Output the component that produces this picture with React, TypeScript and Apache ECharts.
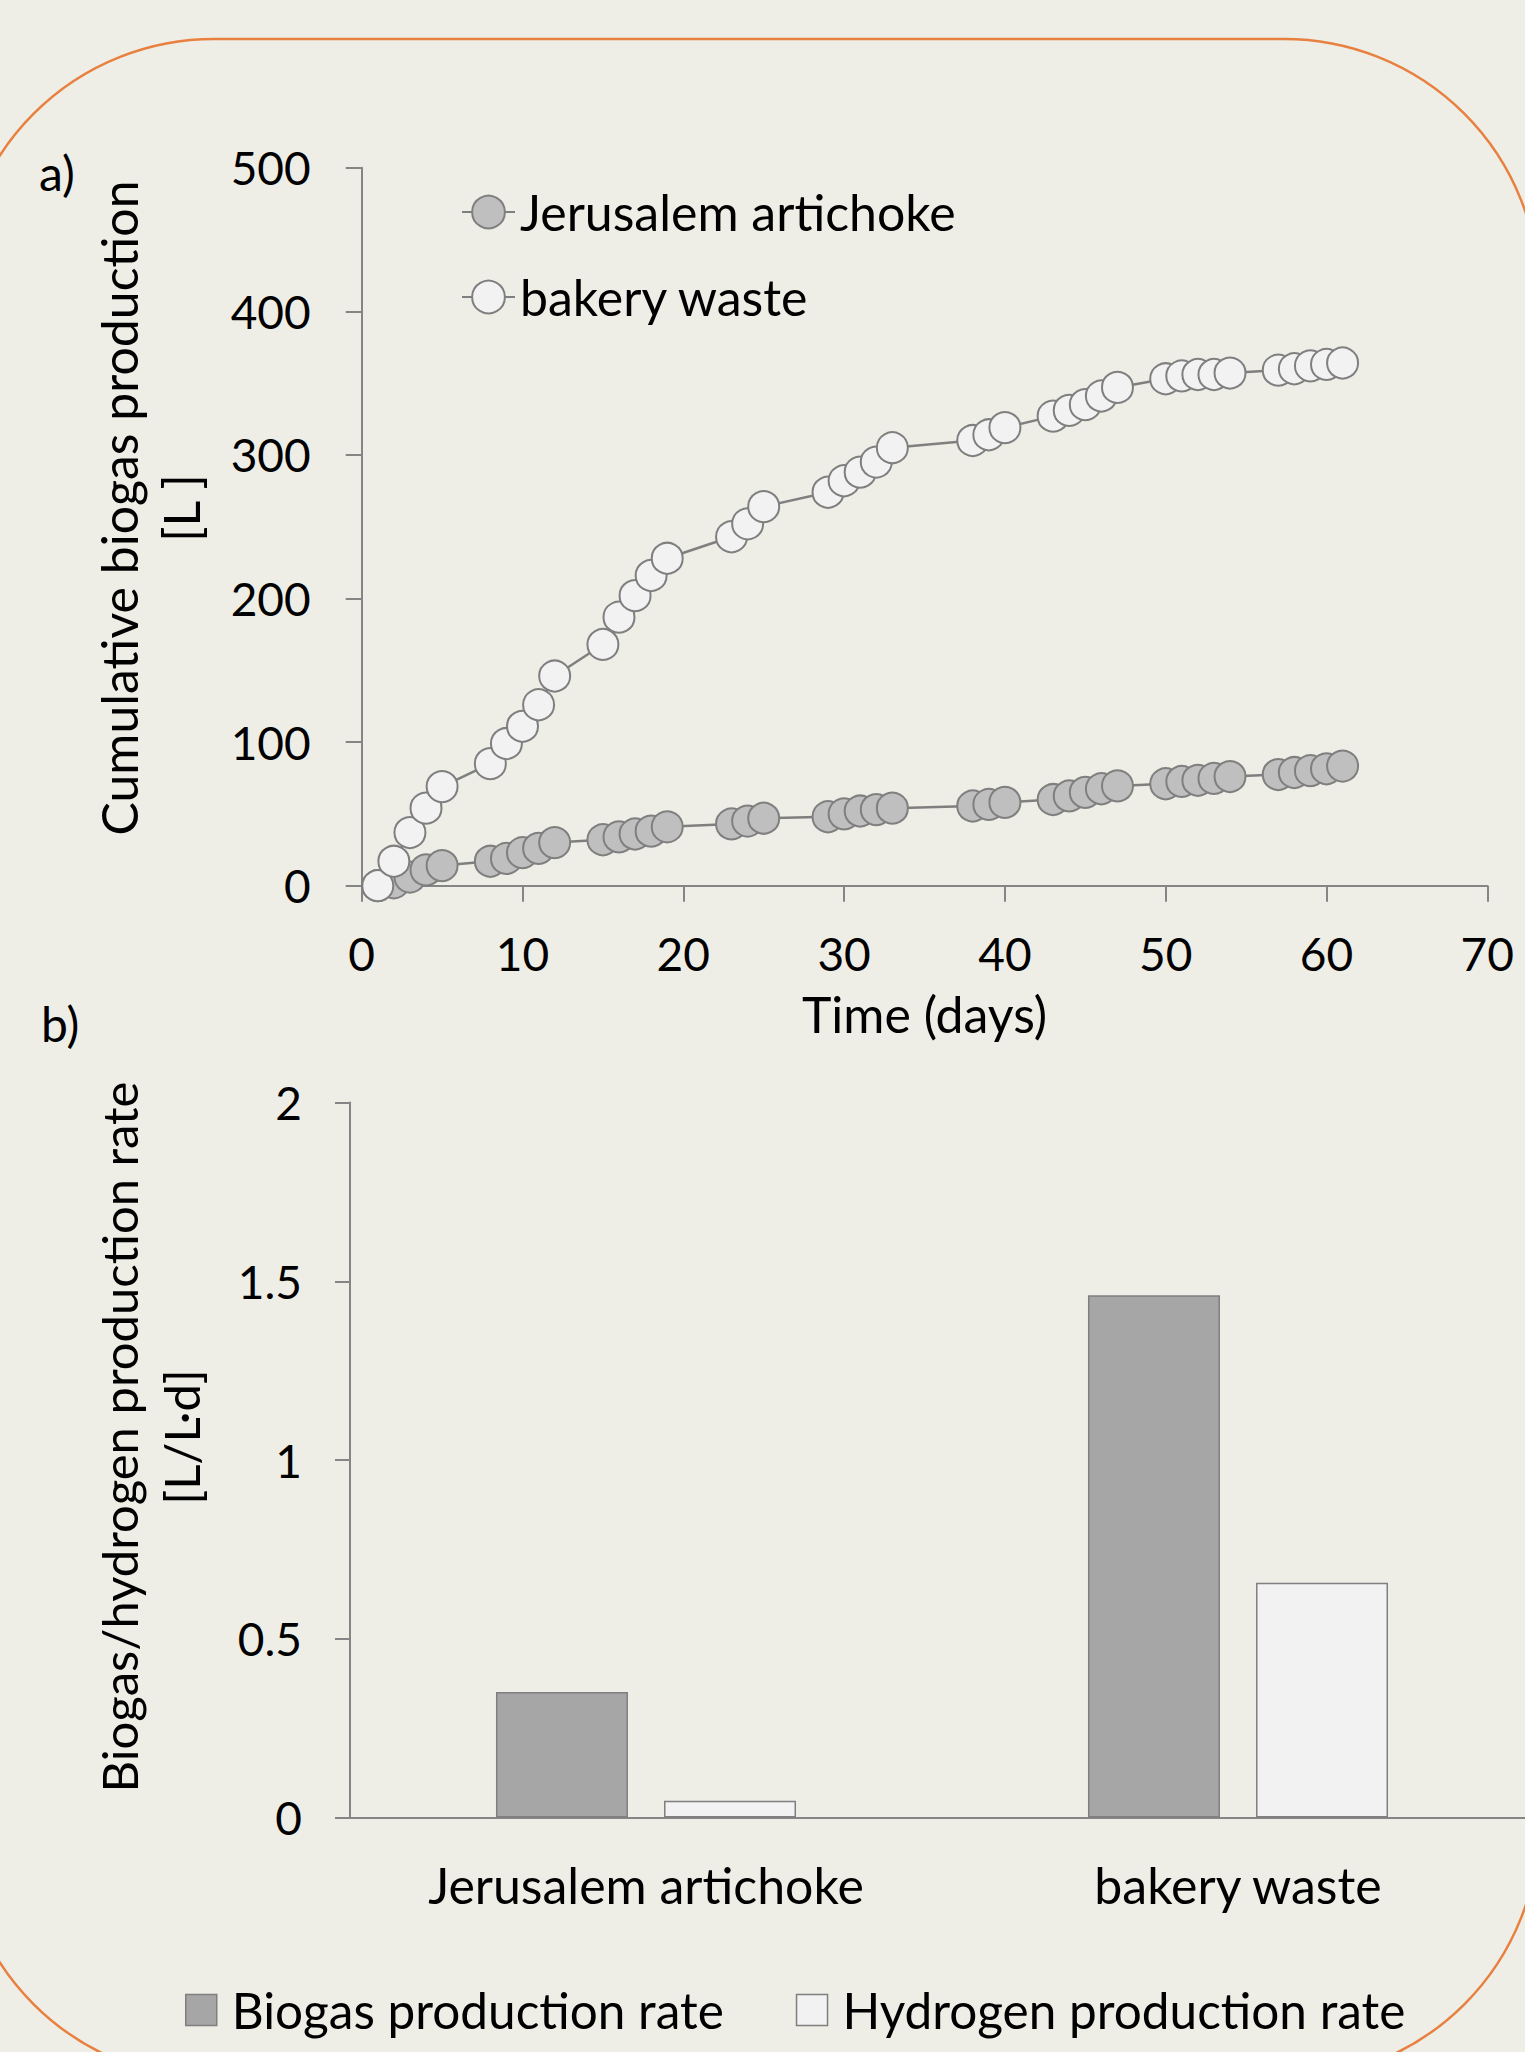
import React, { useEffect, useRef } from "react";
import * as echarts from "echarts";

const days = [1, 2, 3, 4, 5, 8, 9, 10, 11, 12, 15, 16, 17, 18, 19, 23, 24, 25, 29, 30, 31, 32, 33, 38, 39, 40, 43, 44, 45, 46, 47, 50, 51, 52, 53, 54, 57, 58, 59, 60, 61];
const artichokeCum = [0, 2, 6, 11, 14, 17, 19, 23, 26, 30, 32, 34, 36, 38, 41, 43, 45, 47, 48, 50, 52, 53, 54, 55.5, 56.6, 58, 60, 62.5, 65, 67.5, 69.5, 71, 72.6, 73.4, 74.7, 76, 77.4, 78.8, 80.1, 81.4, 83.3];
const bakeryCum = [0, 17, 37, 54, 69, 85, 99, 111, 126, 146, 168, 187, 202, 216, 228, 243, 252, 264, 274, 282, 288, 295, 305, 310, 314, 319, 327, 331, 335, 341, 347, 353, 355, 356, 356, 357, 359, 360, 362, 363, 364];

const substrates = ["Jerusalem artichoke", "bakery waste"];
const biogasRate = [0.351, 1.461];
const hydrogenRate = [0.047, 0.657];

const xTicks = { min: 0, max: 70, interval: 10 };
const yTicksTop = { min: 0, max: 500, interval: 100 };
const yTicksBottom = { min: 0, max: 2, interval: 0.5 };

const FONT = "Lato";
const AX = "#858585";
const BG = "#eeeee7";

export default function App() {
  const ref = useRef<HTMLDivElement>(null);
  useEffect(() => {
    if (!ref.current) return;
    const chart = echarts.init(ref.current, undefined, { renderer: "svg" });
    const axisCommon = {
      axisLine: { lineStyle: { color: AX, width: 2 } },
      splitLine: { show: false },
    };
    chart.setOption({
      animation: false,
      backgroundColor: BG,
      textStyle: { fontFamily: FONT },
      grid: [
        { left: 361.7, top: 167.7, width: 1125.6, height: 718 },
        { left: 350, top: 1102.6, width: 1184, height: 715 },
      ],
      xAxis: [
        {
          gridIndex: 0,
          type: "value",
          ...xTicks,
          name: "Time (days)",
          nameLocation: "middle",
          nameGap: 103,
          nameTextStyle: { fontFamily: FONT, fontSize: 50, color: "#000", lineHeight: 50 },
          ...axisCommon,
          axisTick: { show: true, length: 16, lineStyle: { color: AX, width: 2 } },
          axisLabel: { fontFamily: FONT, fontSize: 46, color: "#000", margin: 45, lineHeight: 46 },
        },
        {
          gridIndex: 1,
          type: "category",
          data: substrates,
          ...axisCommon,
          axisTick: { show: false },
          axisLabel: { fontFamily: FONT, fontSize: 50, color: "#000", margin: 42, lineHeight: 50 },
        },
      ],
      yAxis: [
        {
          gridIndex: 0,
          type: "value",
          ...yTicksTop,
          ...axisCommon,
          axisTick: { show: true, length: 16, lineStyle: { color: AX, width: 2 } },
          axisLabel: { fontFamily: FONT, fontSize: 46, color: "#000", margin: 51 },
        },
        {
          gridIndex: 1,
          type: "value",
          ...yTicksBottom,
          ...axisCommon,
          axisLine: { show: true, lineStyle: { color: AX, width: 2 } },
          axisTick: { show: true, length: 15, lineStyle: { color: AX, width: 2 } },
          axisLabel: { fontFamily: FONT, fontSize: 46, color: "#000", margin: 48 },
        },
      ],
      legend: [
        {
          data: ["Jerusalem artichoke", "bakery waste"],
          orient: "vertical",
          left: 461,
          top: 187,
          padding: 0,
          itemWidth: 53,
          itemHeight: 41,
          itemGap: 35,
          textStyle: { fontFamily: FONT, fontSize: 50, color: "#000", lineHeight: 50 },
        },
        {
          data: ["Biogas production rate", "Hydrogen production rate"],
          orient: "horizontal",
          left: 185,
          top: 1985,
          padding: 0,
          icon: "rect",
          itemWidth: 31,
          itemHeight: 31,
          itemGap: 72,
          itemStyle: { borderColor: "#7f7f7f", borderWidth: 1.5 },
          textStyle: { fontFamily: FONT, fontSize: 49.5, color: "#000", lineHeight: 50, padding: [0, 0, 0, 10] },
        },
      ],
      series: [
        {
          name: "Jerusalem artichoke",
          type: "line",
          xAxisIndex: 0,
          yAxisIndex: 0,
          data: days.map((d, i) => [d, artichokeCum[i]]),
          symbol: "circle",
          symbolSize: 31,
          lineStyle: { color: "#7f7f7f", width: 2.5 },
          itemStyle: { color: "#bfbfbf", borderColor: "#7f7f7f", borderWidth: 2 },
        },
        {
          name: "bakery waste",
          type: "line",
          xAxisIndex: 0,
          yAxisIndex: 0,
          data: days.map((d, i) => [d, bakeryCum[i]]),
          symbol: "circle",
          symbolSize: 31,
          lineStyle: { color: "#7f7f7f", width: 2.5 },
          itemStyle: { color: "#f2f2f2", borderColor: "#7f7f7f", borderWidth: 2 },
        },
        {
          name: "Biogas production rate",
          type: "bar",
          xAxisIndex: 1,
          yAxisIndex: 1,
          data: biogasRate,
          barWidth: 132,
          barGap: "27.3%",
          itemStyle: { color: "#a6a6a6", borderColor: "#7f7f7f", borderWidth: 1.5 },
        },
        {
          name: "Hydrogen production rate",
          type: "bar",
          xAxisIndex: 1,
          yAxisIndex: 1,
          data: hydrogenRate,
          barWidth: 132,
          barGap: "27.3%",
          itemStyle: { color: "#f2f2f2", borderColor: "#7f7f7f", borderWidth: 1.5 },
        },
      ],
      graphic: [
        {
          type: "rect",
          shape: { x: -41, y: 39, width: 1580, height: 2040, r: 255 },
          style: { fill: "none", stroke: "#e8803f", lineWidth: 2.5 },
          silent: true,
          z: -1,
        },
        {
          type: "text",
          x: 39,
          y: 172,
          style: { text: "a)", font: `48px ${FONT}`, fill: "#000", textAlign: "left", textVerticalAlign: "middle" },
        },
        {
          type: "text",
          x: 41,
          y: 1023,
          style: { text: "b)", font: `48px ${FONT}`, fill: "#000", textAlign: "left", textVerticalAlign: "middle" },
        },
        {
          type: "text",
          x: 150,
          y: 508,
          rotation: Math.PI / 2,
          style: {
            text: "Cumulative biogas production\n[L ]",
            font: `50px ${FONT}`,
            lineHeight: 62,
            fill: "#000",
            textAlign: "center",
            textVerticalAlign: "middle",
          },
        },
        {
          type: "text",
          x: 150,
          y: 1437,
          rotation: Math.PI / 2,
          style: {
            text: "Biogas/hydrogen production rate\n[L/L·d]",
            font: `49px ${FONT}`,
            lineHeight: 62,
            fill: "#000",
            textAlign: "center",
            textVerticalAlign: "middle",
          },
        },
      ],
    });
    return () => chart.dispose();
  }, []);
  return (
    <div
      style={{ position: "absolute", left: 0, top: 0, width: 1525, height: 2052, overflow: "hidden", background: BG }}
    >
      <div ref={ref} style={{ position: "absolute", left: 0, top: 0, width: 1560, height: 2052 }} />
    </div>
  );
}
